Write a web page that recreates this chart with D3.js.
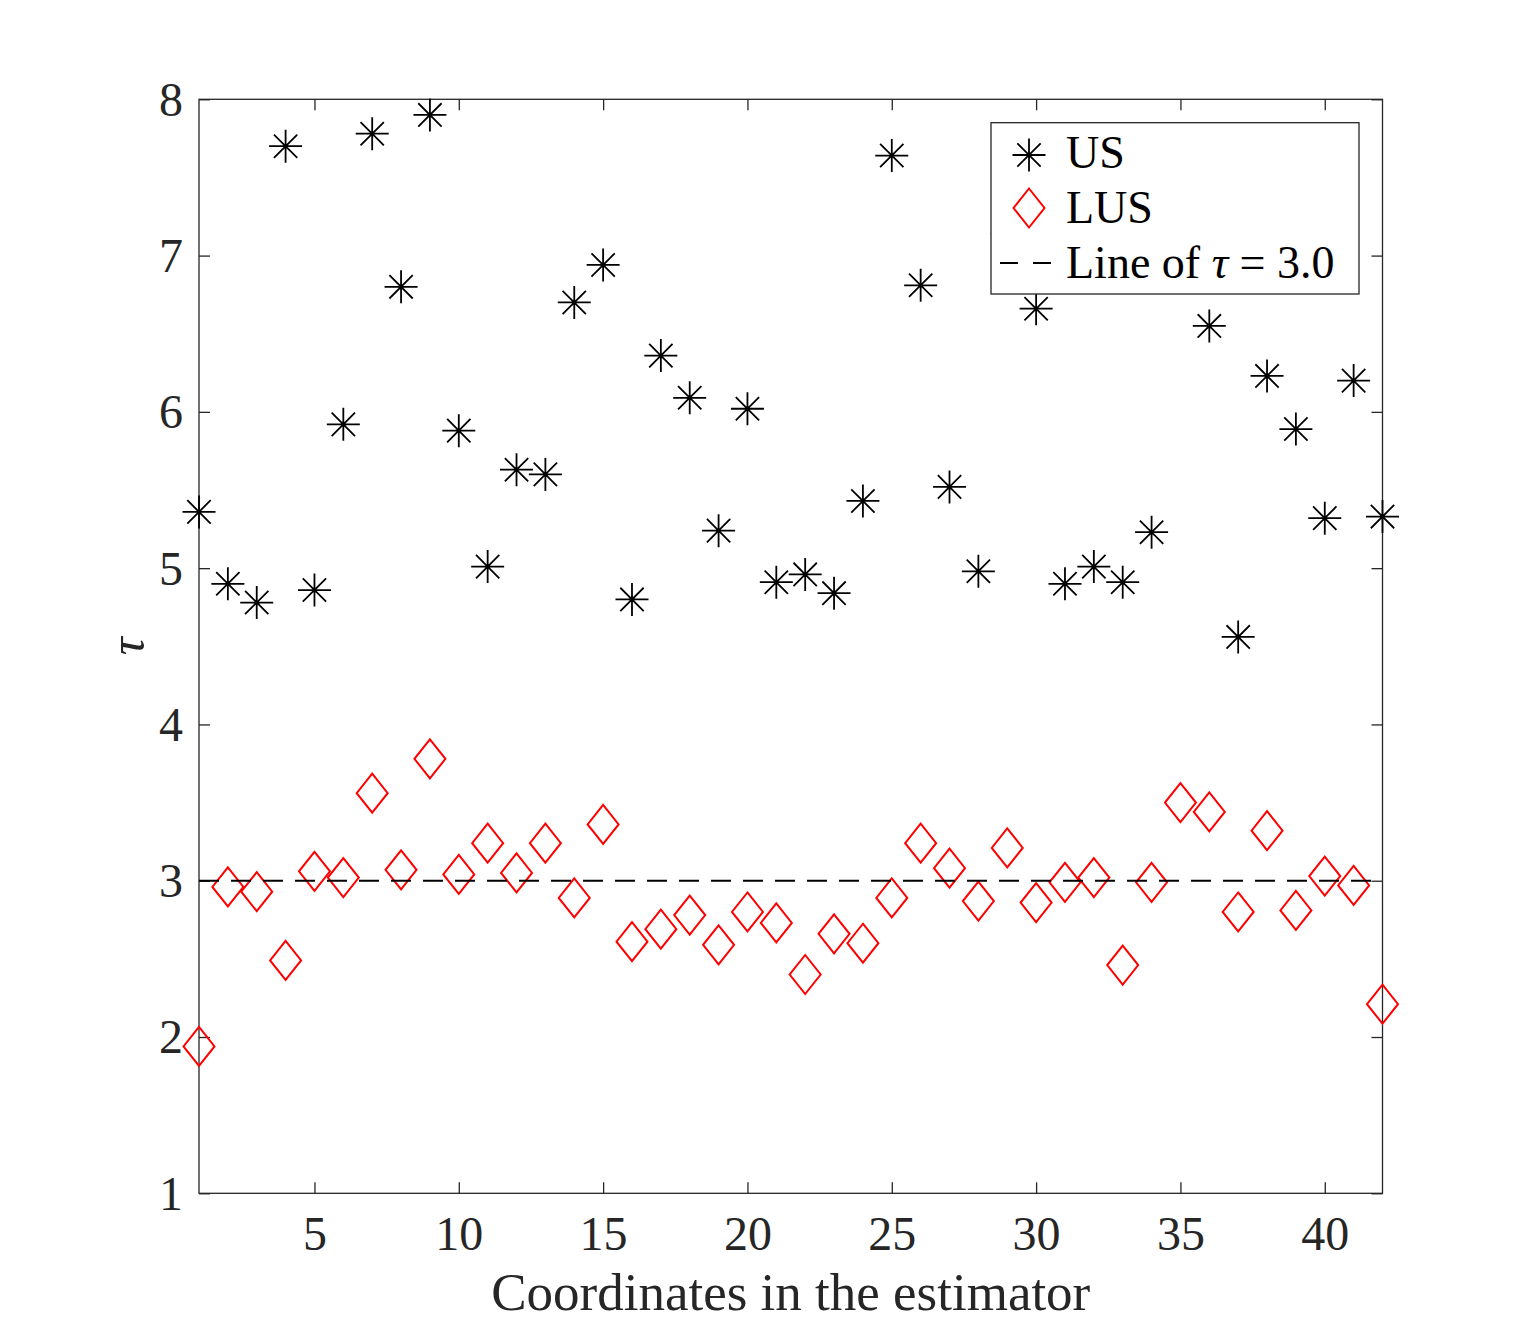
<!DOCTYPE html>
<html>
<head>
<meta charset="utf-8">
<script src="https://cdn.jsdelivr.net/npm/d3@7"></script>
<style>
  body { margin: 0; background: #fff; }
  svg { display: block; }
  text { font-family: "Liberation Serif", "Times New Roman", serif; }
</style>
</head>
<body>
<div id="chart"></div>
<script>
// coordinates of the estimator (x) and tau values
const coords = [1,2,3,4,5,6,7,8,9,10,11,12,13,14,15,16,17,18,19,20,21,
                22,23,24,25,26,27,28,29,30,31,32,33,34,35,36,37,38,39,40,41,42];

const usVals = [5.36,4.90,4.78,7.70,4.86,5.92,7.78,6.80,7.90,5.88,5.01,5.63,5.60,6.70,
                6.94,4.80,6.36,6.09,5.24,6.02,4.91,4.96,4.84,5.43,7.64,6.81,5.52,4.98,
                7.14,6.66,4.90,5.01,4.91,5.23,7.00,6.55,4.56,6.23,5.89,5.32,6.20,5.33];

const lusVals = [1.94,2.96,2.93,2.49,3.06,3.02,3.56,3.07,3.78,3.04,3.24,3.05,3.24,2.89,
                 3.36,2.61,2.69,2.78,2.59,2.80,2.73,2.40,2.66,2.60,2.89,3.24,3.08,2.87,
                 3.21,2.86,2.99,3.02,2.46,2.99,3.50,3.44,2.80,3.32,2.81,3.03,2.97,2.21];

const tauLine = 3.0;
const xTicks = [5,10,15,20,25,30,35,40];
const yTicks = [1,2,3,4,5,6,7,8];
const legendLabels = ["US", "LUS", "Line of "];

const width = 1528, height = 1340;
const margin = {top: 99.3, right: 145.5, bottom: 146.7, left: 199};
const axisColor = "#262626";
const serif = "Liberation Serif, Times New Roman, serif";

const svg = d3.select("#chart").append("svg")
    .attr("width", width)
    .attr("height", height);

const x = d3.scaleLinear()
    .domain([1, 42])
    .range([margin.left, width - margin.right]);

const y = d3.scaleLinear()
    .domain([1, 8])
    .range([height - margin.bottom, margin.top]);

// marker paths
function starPath(r) {
    const d = r * Math.SQRT1_2;
    return `M${-r},0L${r},0M0,${-r}L0,${r}M${-d},${-d}L${d},${d}M${-d},${d}L${d},${-d}`;
}
function diamondPath(w, h) {
    return `M0,${-h}L${w},0L0,${h}L${-w},0Z`;
}

// frame
svg.append("rect")
    .attr("x", x(1)).attr("y", y(8))
    .attr("width", x(42) - x(1)).attr("height", y(1) - y(8))
    .attr("fill", "none")
    .attr("stroke", axisColor)
    .attr("stroke-width", 1.3);

// axes with inward ticks
const xAxis = svg.append("g")
    .attr("transform", `translate(0,${y(1)})`)
    .call(d3.axisBottom(x).tickValues(xTicks).tickFormat(d3.format("d"))
        .tickSizeInner(-11).tickSizeOuter(0).tickPadding(57));
xAxis.select(".domain").remove();
xAxis.selectAll("line").attr("stroke", axisColor).attr("stroke-width", 1.3);
xAxis.selectAll("text").attr("dy", null)
    .attr("fill", axisColor).style("font-size", "48px").style("font-family", serif);

const xAxisTop = svg.append("g")
    .attr("transform", `translate(0,${y(8)})`)
    .call(d3.axisTop(x).tickValues(xTicks).tickSizeInner(-11).tickSizeOuter(0).tickFormat(""));
xAxisTop.select(".domain").remove();
xAxisTop.selectAll("line").attr("stroke", axisColor).attr("stroke-width", 1.3);

const yAxis = svg.append("g")
    .attr("transform", `translate(${x(1)},0)`)
    .call(d3.axisLeft(y).tickValues(yTicks).tickFormat(d3.format("d"))
        .tickSizeInner(-11).tickSizeOuter(0).tickPadding(16));
yAxis.select(".domain").remove();
yAxis.selectAll("line").attr("stroke", axisColor).attr("stroke-width", 1.3);
yAxis.selectAll("text").attr("dy", "0.33em")
    .attr("fill", axisColor).style("font-size", "48px").style("font-family", serif);

const yAxisRight = svg.append("g")
    .attr("transform", `translate(${x(42)},0)`)
    .call(d3.axisRight(y).tickValues(yTicks).tickSizeInner(-11).tickSizeOuter(0).tickFormat(""));
yAxisRight.select(".domain").remove();
yAxisRight.selectAll("line").attr("stroke", axisColor).attr("stroke-width", 1.3);

// axis labels
svg.append("text")
    .attr("x", (x(1) + x(42)) / 2)
    .attr("y", 1310)
    .attr("text-anchor", "middle")
    .attr("fill", axisColor)
    .style("font-size", "53px")
    .text("Coordinates in the estimator");

svg.append("text")
    .attr("transform", `translate(144,${(y(1) + y(8)) / 2}) rotate(-90)`)
    .attr("text-anchor", "middle")
    .attr("fill", axisColor)
    .style("font-size", "50px")
    .style("font-style", "italic")
    .text("τ");

// US points
svg.append("g").selectAll("path")
    .data(coords.map((c, i) => ({c: c, v: usVals[i]})))
    .join("path")
    .attr("transform", d => `translate(${x(d.c)},${y(d.v)})`)
    .attr("d", starPath(16.5))
    .attr("fill", "none")
    .attr("stroke", "#000")
    .attr("stroke-width", 1.8);

// LUS points
svg.append("g").selectAll("path")
    .data(coords.map((c, i) => ({c: c, v: lusVals[i]})))
    .join("path")
    .attr("transform", d => `translate(${x(d.c)},${y(d.v)})`)
    .attr("d", diamondPath(15.5, 19.5))
    .attr("fill", "none")
    .attr("stroke", "#ff0000")
    .attr("stroke-width", 2);

// tau = 3 line
svg.append("line")
    .attr("x1", x(1)).attr("x2", x(42))
    .attr("y1", y(tauLine)).attr("y2", y(tauLine))
    .attr("stroke", "#000")
    .attr("stroke-width", 2)
    .attr("stroke-dasharray", "20,12");

// legend
const lg = svg.append("g");
lg.append("rect")
    .attr("x", 991).attr("y", 122.7)
    .attr("width", 368).attr("height", 171.3)
    .attr("fill", "#fff")
    .attr("stroke", axisColor)
    .attr("stroke-width", 1.3);

lg.append("path")
    .attr("transform", "translate(1029,155)")
    .attr("d", starPath(16.5))
    .attr("fill", "none").attr("stroke", "#000").attr("stroke-width", 1.8);

lg.append("path")
    .attr("transform", "translate(1029,208)")
    .attr("d", diamondPath(15.5, 19.5))
    .attr("fill", "none").attr("stroke", "#ff0000").attr("stroke-width", 2);

lg.append("line")
    .attr("x1", 1000).attr("x2", 1052)
    .attr("y1", 263).attr("y2", 263)
    .attr("stroke", "#000").attr("stroke-width", 2)
    .attr("stroke-dasharray", "18,15");

const lgText = lg.append("g").style("font-size", "46px").attr("fill", "#000");
lgText.append("text").attr("x", 1066).attr("y", 168).text(legendLabels[0]);
lgText.append("text").attr("x", 1066).attr("y", 223).text(legendLabels[1]);
const t3 = lgText.append("text").attr("x", 1066).attr("y", 278);
t3.append("tspan").text(legendLabels[2]);
t3.append("tspan").style("font-style", "italic").text("τ");
t3.append("tspan").text(" = " + tauLine.toFixed(1));
</script>
</body>
</html>
